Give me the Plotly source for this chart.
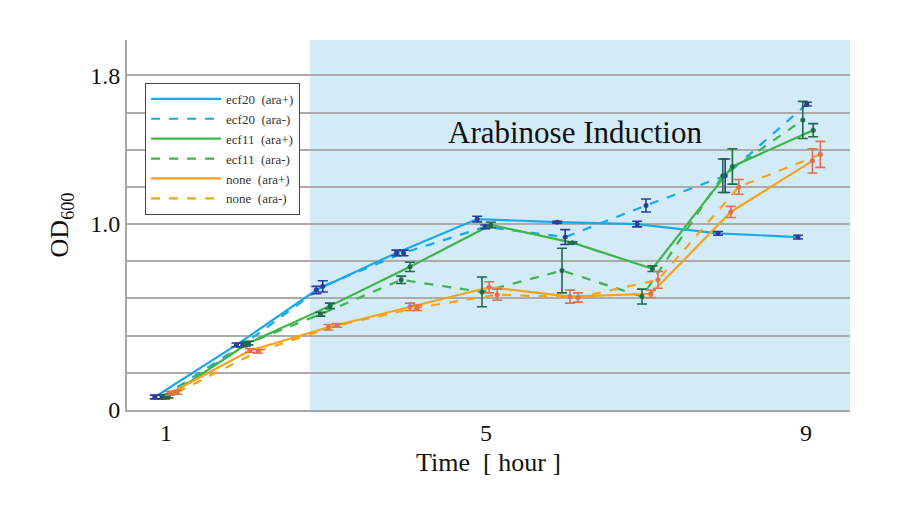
import plotly.graph_objects as go

# time points (small per-series offsets as drawn in the chart)
t_ecf20_pos = [0.86, 1.88, 2.88, 3.88, 4.89, 5.89, 6.89, 7.90, 8.90]
t_ecf20_neg = [0.95, 1.96, 2.96, 3.97, 4.99, 5.99, 7.00, 7.99, 9.01]
t_ecf11_pos = [1.03, 2.03, 3.05, 4.05, 5.06, 6.08, 7.08, 8.08, 9.09]
t_ecf11_neg = [0.99, 2.00, 2.93, 3.94, 4.95, 5.95, 6.95, 7.96, 8.96]
t_none_pos = [1.05, 2.05, 3.03, 4.05, 5.04, 6.05, 7.06, 8.06, 9.08]
t_none_neg = [1.14, 2.15, 3.14, 4.14, 5.14, 6.15, 7.15, 8.16, 9.18]

# OD600 values
od_ecf20_pos = [0.07, 0.35, 0.645, 0.845, 1.027, 1.01, 1.00, 0.95, 0.93]
od_ecf20_neg = [0.07, 0.35, 0.665, 0.845, 0.985, 0.93, 1.10, 1.26, 1.645]
od_ecf11_pos = [0.075, 0.36, 0.56, 0.77, 0.995, 0.90, 0.76, 1.31, 1.505]
od_ecf11_neg = [0.07, 0.355, 0.515, 0.70, 0.635, 0.75, 0.61, 1.26, 1.56]
od_none_pos = [0.09, 0.32, 0.445, 0.555, 0.66, 0.61, 0.625, 1.065, 1.34]
od_none_neg = [0.095, 0.315, 0.455, 0.55, 0.62, 0.605, 0.70, 1.20, 1.375]

# error bars
err_ecf20_pos = [0.01, 0.01, 0.02, 0.015, 0.015, 0.005, 0.015, 0.01, 0.01]
err_ecf20_neg = [0.01, 0.01, 0.03, 0.015, 0.01, 0.04, 0.035, 0.09, 0.01]
err_ecf11_pos = [0.01, 0.01, 0.015, 0.025, 0.015, 0.005, 0.015, 0.095, 0.035]
err_ecf11_neg = [0.01, 0.01, 0.01, 0.02, 0.08, 0.12, 0.04, 0.09, 0.1]
err_none_pos = [0.01, 0.01, 0.015, 0.02, 0.03, 0.035, 0.02, 0.03, 0.065]
err_none_neg = [0.01, 0.01, 0.01, 0.015, 0.03, 0.025, 0.045, 0.04, 0.07]

series = [
    ("ecf20  (ara+)", t_ecf20_pos, od_ecf20_pos, err_ecf20_pos, "#1AA9E8", "solid", "#2B3C9B"),
    ("ecf20  (ara-)", t_ecf20_neg, od_ecf20_neg, err_ecf20_neg, "#1AA9E8", "dash", "#2B3C9B"),
    ("ecf11  (ara+)", t_ecf11_pos, od_ecf11_pos, err_ecf11_pos, "#3DB54A", "solid", "#1F6B4A"),
    ("ecf11  (ara-)", t_ecf11_neg, od_ecf11_neg, err_ecf11_neg, "#3DB54A", "dash", "#1F6B4A"),
    ("none  (ara+)", t_none_pos, od_none_pos, err_none_pos, "#F7A21B", "solid", "#E0704E"),
    ("none  (ara-)", t_none_neg, od_none_neg, err_none_neg, "#F7A21B", "dash", "#E0704E"),
]

serif = "Liberation Serif, DejaVu Serif, serif"

fig = go.Figure()

for name, t, od, err, color, dash, mcolor in series:
    fig.add_trace(go.Scatter(x=t, y=od, mode="lines", name=name,
                             line=dict(color=color, width=2.2, dash=dash)))
for name, t, od, err, color, dash, mcolor in series:
    fig.add_trace(go.Scatter(x=t, y=od, mode="markers", showlegend=False,
                             marker=dict(color=mcolor, size=5),
                             error_y=dict(type="data", array=err, color=mcolor,
                                          thickness=1.6, width=5)))

fig.add_shape(type="rect", xref="x", yref="paper", x0=2.8, x1=9.55, y0=0, y1=1,
              fillcolor="#D3EAF7", line=dict(width=0), layer="below")

fig.add_annotation(x=6.11, y=1.49, xref="x", yref="y", text="Arabinose Induction",
                   showarrow=False, font=dict(family=serif, size=31, color="#111"))

# page body adds an 8px offset, so margins are shifted to compensate
fig.update_layout(
    width=900, height=528,
    margin=dict(l=119, r=58, t=32, b=126),
    plot_bgcolor="white", paper_bgcolor="white",
    font=dict(family=serif, color="#111"),
    legend=dict(x=0.025, y=0.884, xanchor="left", yanchor="top",
                bgcolor="white", bordercolor="#444", borderwidth=1,
                font=dict(family=serif, size=13, color="#333"),
                tracegroupgap=0, itemwidth=70),
)

fig.update_xaxes(range=[0.5125, 9.55], tickvals=[1, 5, 9], ticktext=["1", "5", "9"],
                 showgrid=False, zeroline=False, showline=True, linecolor="#A8A8A8",
                 linewidth=2, tickfont=dict(size=24, family=serif), automargin=False,
                 title=dict(text="Time  [ hour ]", font=dict(size=26, family=serif), standoff=8))
fig.update_yaxes(range=[0, 1.99], tickvals=[0, 1.0, 1.8], ticktext=["0", "1.0", "1.8"],
                 showgrid=True, gridcolor="#ABABAB", gridwidth=1.5,
                 minor=dict(dtick=0.2, tick0=0, showgrid=True, gridcolor="#ABABAB", gridwidth=1.5),
                 zeroline=False, showline=True, linecolor="#A8A8A8", linewidth=2,
                 tickfont=dict(size=24, family=serif), automargin=False,
                 title=dict(text="OD<sub>600</sub>", font=dict(size=26, family=serif), standoff=14))

fig.write_html("out.html")
